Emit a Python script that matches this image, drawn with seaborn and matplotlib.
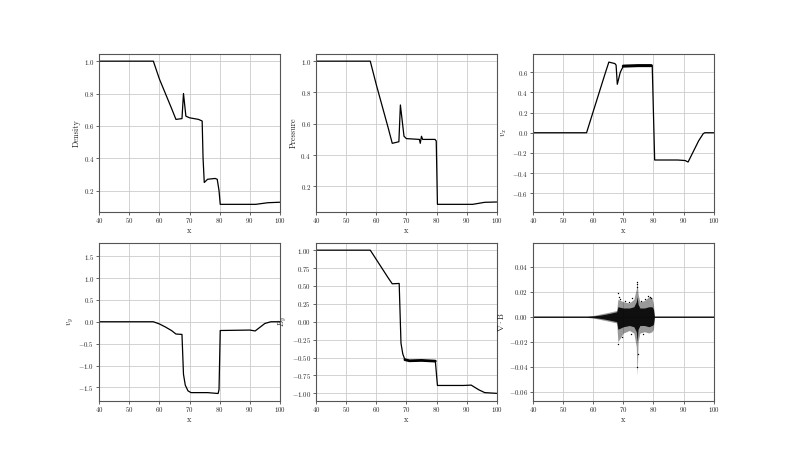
import matplotlib
matplotlib.use("Agg")
import matplotlib.pyplot as plt
import seaborn as sns
import pandas as pd

# values (x positions of breakpoints, then field values)
x_rho = [40, 58, 60, 62, 64, 65.5, 67.5, 68.0, 68.8, 70, 73, 74.2, 74.5, 74.9, 76, 78.5, 79.2, 79.8, 80.2, 92, 96, 100]
rho = [1.0, 1.0, 0.89, 0.80, 0.71, 0.64, 0.645, 0.80, 0.66, 0.65, 0.64, 0.63, 0.40, 0.25, 0.27, 0.275, 0.27, 0.20, 0.115, 0.115, 0.125, 0.128]

x_p = [40, 58, 60, 62, 64, 65.3, 67.5, 68.0, 69.2, 70, 74.3, 74.6, 75.0, 75.4, 79.5, 79.9, 80.3, 92, 96, 100]
pres = [1.0, 1.0, 0.85, 0.71, 0.57, 0.475, 0.485, 0.72, 0.52, 0.505, 0.50, 0.475, 0.52, 0.50, 0.50, 0.49, 0.085, 0.085, 0.098, 0.10]

x_vx = [40, 57.8, 60, 62, 64, 65.2, 67.2, 67.6, 68.0, 69, 70, 75, 79.3, 79.6, 80.4, 88, 90.5, 91.5, 93, 95, 96.5, 97, 100]
vx = [0.0, 0.0, 0.21, 0.40, 0.59, 0.70, 0.685, 0.67, 0.48, 0.60, 0.66, 0.665, 0.665, 0.66, -0.27, -0.27, -0.275, -0.29, -0.20, -0.08, -0.01, 0.0, 0.0]

x_vy = [40, 58, 60, 62, 64, 65.5, 67.5, 68.0, 68.6, 69.5, 70.5, 76, 79.5, 79.8, 80.2, 90, 91.8, 93.5, 95, 96.5, 97, 100]
vy = [0.0, 0.0, -0.05, -0.12, -0.20, -0.28, -0.29, -1.20, -1.45, -1.58, -1.62, -1.62, -1.64, -1.55, -0.20, -0.19, -0.21, -0.12, -0.04, -0.01, 0.0, 0.0]

x_by = [40, 58, 60, 62, 64, 65.3, 67.6, 68.2, 68.8, 69.5, 71, 75, 79.6, 80.3, 89, 91.5, 94, 96, 100]
by = [1.0, 1.0, 0.87, 0.74, 0.61, 0.53, 0.535, -0.30, -0.45, -0.53, -0.545, -0.54, -0.55, -0.89, -0.89, -0.885, -0.95, -0.99, -1.0]

# div B : extent of the noise cloud
x_div = [40, 58, 60, 62, 64, 66, 67.8, 68.2, 70, 72, 73.5, 74.3, 74.6, 74.9, 75.5, 77, 78.5, 79.5, 80.0, 80.3, 100]
div_hi = [0.0006, 0.0006, 0.001, 0.002, 0.003, 0.004, 0.005, 0.014, 0.012, 0.011, 0.014, 0.022, 0.028, 0.018, 0.012, 0.013, 0.016, 0.015, 0.010, 0.0006, 0.0006]
div_lo = [-0.0006, -0.0006, -0.001, -0.002, -0.003, -0.004, -0.005, -0.020, -0.013, -0.011, -0.013, -0.024, -0.047, -0.020, -0.013, -0.012, -0.013, -0.012, -0.010, -0.0006, -0.0006]
div_core_hi = [0.0005, 0.0005, 0.0007, 0.0012, 0.002, 0.003, 0.004, 0.008, 0.007, 0.007, 0.008, 0.012, 0.016, 0.010, 0.007, 0.007, 0.008, 0.008, 0.006, 0.0005, 0.0005]
div_core_lo = [-0.0005, -0.0005, -0.0007, -0.0012, -0.002, -0.003, -0.004, -0.010, -0.008, -0.007, -0.008, -0.012, -0.020, -0.010, -0.007, -0.007, -0.008, -0.007, -0.006, -0.0005, -0.0005]
x_out = [68.1, 68.4, 69.0, 70.5, 71.8, 73.0, 74.4, 74.5, 74.6, 74.7, 74.8, 75.8, 77.2, 78.2, 78.8, 79.3, 68.3, 69.5, 72.5, 76.5]
div_out = [0.019, 0.016, 0.014, 0.013, 0.012, 0.015, 0.024, 0.026, 0.028, -0.040, -0.030, 0.013, 0.014, 0.017, 0.016, 0.015, -0.022, -0.016, -0.014, -0.014]

sns.set_style("whitegrid")
plt.rcParams['font.family'] = ['serif']
plt.rcParams['font.serif'] = ['cmr10', 'DejaVu Serif']
plt.rcParams['mathtext.fontset'] = 'cm'
plt.rcParams['axes.formatter.use_mathtext'] = True
plt.rcParams['axes.unicode_minus'] = True

fig, axes = plt.subplots(2, 3, figsize=(7.93, 4.5), dpi=100)

panels = [
    (axes[0, 0], x_rho, rho, 'Density', None),
    (axes[0, 1], x_p, pres, 'Pressure', None),
    (axes[0, 2], x_vx, vx, r'$v_x$', (-0.78, 0.78)),
    (axes[1, 0], x_vy, vy, r'$v_y$', (-1.8, 1.8)),
    (axes[1, 1], x_by, by, r'$B_y$', (-1.1, 1.1)),
]
for ax, xs, ys, lab, lim in panels:
    df = pd.DataFrame({'x': xs, 'y': ys})
    sns.lineplot(data=df, x='x', y='y', ax=ax, color='black', lw=0.9, sort=False)
    ax.set_ylabel(lab)
    if lim is not None:
        ax.set_ylim(*lim)

# thicker noisy plateaus
sns.lineplot(x=x_vx[10:13], y=vx[10:13], ax=axes[0, 2], color='black', lw=2.2)
sns.lineplot(x=x_by[9:13], y=by[9:13], ax=axes[1, 1], color='black', lw=2.0)

ax = axes[1, 2]
ax.fill_between(x_div, div_lo, div_hi, color='black', alpha=0.4, lw=0)
ax.fill_between(x_div, div_core_lo, div_core_hi, color='black', alpha=0.9, lw=0)
sns.scatterplot(x=x_out, y=div_out, ax=ax, color='black', s=1, linewidth=0)
ax.set_ylim(-0.067, 0.059)
ax.set_yticks([-0.06, -0.04, -0.02, 0.0, 0.02, 0.04])
ax.set_ylabel(r'$\nabla\cdot\mathrm{B}$')

for ax in axes.flat:
    ax.set_xlim(40, 100)
    ax.set_xlabel('x', fontsize=6)
    ax.yaxis.label.set_size(6)
    ax.tick_params(labelsize=5, length=2, width=0.5, direction='out', left=True, bottom=True, pad=1.5)
    ax.grid(True, color='#cccccc', lw=0.6)
    for s in ax.spines.values():
        s.set_color('#555555')
        s.set_linewidth(0.8)
    ax.xaxis.labelpad = 1
    ax.yaxis.labelpad = 2

fig.savefig('out.png', dpi=100)
